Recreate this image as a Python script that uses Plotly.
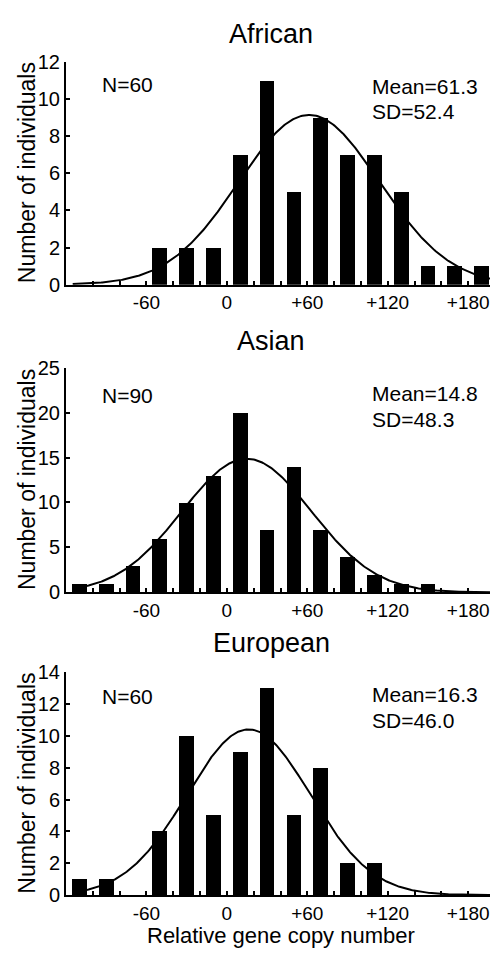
import numpy as np
import plotly.graph_objects as go

# ---------------- data ----------------
bin_centers = [-110, -90, -70, -50, -30, -10, 10, 30, 50, 70, 90, 110, 130, 150, 170, 190]
african_counts = [0, 0, 0, 2, 2, 2, 7, 11, 5, 9, 7, 7, 5, 1, 1, 1]
asian_counts = [1, 1, 3, 6, 10, 13, 20, 7, 14, 7, 4, 2, 1, 1, 0, 0]
european_counts = [1, 1, 0, 4, 10, 5, 9, 13, 5, 8, 2, 2, 0, 0, 0, 0]

panel_titles = ["African", "Asian", "European"]
n_values = [60, 90, 60]
mean_values = [61.3, 14.8, 16.3]
sd_values = [52.4, 48.3, 46.0]
bin_width = 20

x_tick_vals = [-60, 0, 60, 120, 180]
x_tick_text = ["-60", "0", "+60", "+120", "+180"]
y_tick_vals = [list(range(0, 13, 2)), list(range(0, 26, 5)), list(range(0, 15, 2))]
y_ranges = [[0, 12], [0, 25], [0, 14]]

counts = [african_counts, asian_counts, european_counts]

# ---------------- layout geometry (pixels in the 498x954 view) ----------------
VIEW_W, VIEW_H = 498, 954
OFF = 8                      # page body margin
W, H = VIEW_W - OFF, VIEW_H - OFF
FONT = "Liberation Sans, Arial, sans-serif"
x_left, x_right = 66, 495
panel_tops = [51.7, 365, 676.7]
panel_bottoms = [280, 595, 905]


def px_x(p):
    return (p - OFF) / W


def px_y(p):
    return 1 - (p - OFF) / H


fig = go.Figure()

curve_x = np.linspace(-115, 200, 400)

for i in range(3):
    xa = "x" if i == 0 else f"x{i+1}"
    ya = "y" if i == 0 else f"y{i+1}"
    fig.add_trace(go.Bar(
        x=bin_centers, y=counts[i], width=11,
        marker=dict(color="black", line=dict(width=0)),
        xaxis=xa, yaxis=ya, showlegend=False, hoverinfo="x+y",
    ))
    # fitted normal curve from the stated N, mean and SD
    scale = n_values[i] * bin_width / (sd_values[i] * np.sqrt(2 * np.pi))
    curve_y = scale * np.exp(-0.5 * ((curve_x - mean_values[i]) / sd_values[i]) ** 2)
    fig.add_trace(go.Scatter(
        x=curve_x, y=curve_y, mode="lines",
        line=dict(color="black", width=2),
        xaxis=xa, yaxis=ya, showlegend=False, hoverinfo="skip", cliponaxis=True,
    ))

    dom_y = [px_y(panel_bottoms[i]), px_y(panel_tops[i])]
    xkey = "xaxis" if i == 0 else f"xaxis{i+1}"
    ykey = "yaxis" if i == 0 else f"yaxis{i+1}"
    fig.layout[xkey] = dict(
        domain=[px_x(x_left), min(1.0, px_x(x_right))], anchor=ya,
        range=[-120, 200], showgrid=False, zeroline=False,
        showline=True, linecolor="black", linewidth=2,
        ticks="inside", ticklen=4, tickwidth=1.5, tickcolor="black",
        tickvals=x_tick_vals, ticktext=x_tick_text,
        minor=dict(ticks="inside", ticklen=4, tickwidth=1.5, tickcolor="black",
                   tickvals=list(range(-100, 201, 20))),
        tickfont=dict(family=FONT, size=19, color="black"),
        fixedrange=True,
    )
    fig.layout[ykey] = dict(
        domain=dom_y, anchor=xa,
        range=y_ranges[i], showgrid=False, zeroline=False,
        showline=True, linecolor="black", linewidth=2,
        ticks="inside", ticklen=4, tickwidth=1.5, tickcolor="black",
        tickvals=y_tick_vals[i],
        tickfont=dict(family=FONT, size=20, color="black"),
        fixedrange=True,
    )

    # panel title
    title_y = [23, 338, 647][i]
    fig.add_annotation(text=panel_titles[i], xref="paper", yref="paper",
                       x=px_x(271), y=px_y(title_y), xanchor="center", yanchor="middle",
                       showarrow=False, font=dict(family=FONT, size=27, color="black"))
    # y-axis title
    fig.add_annotation(text="Number of individuals", xref="paper", yref="paper",
                       x=px_x(27), y=px_y((panel_tops[i] + panel_bottoms[i]) / 2),
                       xanchor="center", yanchor="middle", textangle=-90,
                       showarrow=False, font=dict(family=FONT, size=23, color="black"))
    # N annotation
    n_y = [75, 393, 701.7][i]
    fig.add_annotation(text=f"N={n_values[i]}", xref="paper", yref="paper",
                       x=px_x(100), y=px_y(n_y), xanchor="left", yanchor="middle",
                       showarrow=False, font=dict(family=FONT, size=21, color="black"))
    # Mean / SD annotation
    m_y = [76.7, 391.7, 700][i]
    fig.add_annotation(text=f"Mean={mean_values[i]:.1f}", xref="paper", yref="paper",
                       x=px_x(370), y=px_y(m_y), xanchor="left", yanchor="middle",
                       showarrow=False, font=dict(family=FONT, size=21, color="black"))
    fig.add_annotation(text=f"SD={sd_values[i]:.1f}", xref="paper", yref="paper",
                       x=px_x(370), y=px_y(m_y + 26.5), xanchor="left", yanchor="middle",
                       showarrow=False, font=dict(family=FONT, size=21, color="black"))

# x-axis title
fig.add_annotation(text="Relative gene copy number", xref="paper", yref="paper",
                   x=px_x(281), y=px_y(946.5), xanchor="center", yanchor="middle",
                   showarrow=False, font=dict(family=FONT, size=22, color="black"))

fig.update_layout(
    width=W, height=H,
    margin=dict(l=0, r=0, t=0, b=0),
    paper_bgcolor="white", plot_bgcolor="white",
    bargap=0, showlegend=False,
    font=dict(family=FONT, color="black"),
)

fig.write_html("out.html")
